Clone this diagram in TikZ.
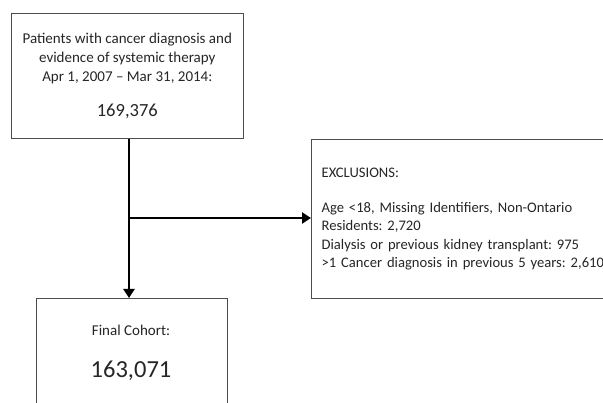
\documentclass[tikz,border=0pt]{standalone}
\usepackage{fontspec}
\setmainfont{Carlito}
\usetikzlibrary{arrows.meta}
\frenchspacing
\begin{document}
\begin{tikzpicture}[x=1pt,y=-1pt,
  box/.style={draw=black!70, line width=1.3pt, fill=white, inner sep=0pt, text=black!85},
  arrow/.style={draw=black, line width=2.4pt, -{Triangle[length=9pt,width=11pt]}},
  small/.style={font=\fontsize{15}{18.8}\selectfont},
  exsmall/.style={font=\fontsize{14.6}{18.6}\selectfont}
]
\useasboundingbox (0,0) rectangle (603,403);
\begin{scope}
\clip (0,0) rectangle (603,403);
\node[box, minimum width=232pt, minimum height=125pt, align=center, small] (top) at (127.3,76)
  {Patients with cancer diagnosis and\\evidence of systemic therapy\\Apr 1, 2007 – Mar 31, 2014:\\[16pt]{\fontsize{18.5}{20}\selectfont 169,376}};
\node[box, anchor=north west, minimum width=320pt, minimum height=159pt, text width=300pt, inner xsep=10pt, align=left, exsmall] (excl) at (311,139)
  {EXCLUSIONS:\\[16pt]Age <18, Missing Identifiers, Non-Ontario\\Residents: 2,720\\Dialysis or previous kidney transplant: 975\\>1 Cancer diagnosis in previous 5 years: 2,610};
\node[box, anchor=north west, minimum width=191pt, minimum height=130pt] (final) at (36,298) {};
\node[small, text=black!85, anchor=center] (finallabel) at (131,330) {Final Cohort:};
\node[font=\fontsize{24.5}{26}\selectfont, text=black!85, anchor=center] (finalnum) at (131,371) {163,071};
\end{scope}
\coordinate (junction) at (129,218);
\draw[line width=2.4pt] (top.south -| junction) -- (junction);
\draw[arrow] (junction) -- (final.north -| junction);
\draw[arrow] (junction) -- (excl.west |- junction);
\end{tikzpicture}
\end{document}
